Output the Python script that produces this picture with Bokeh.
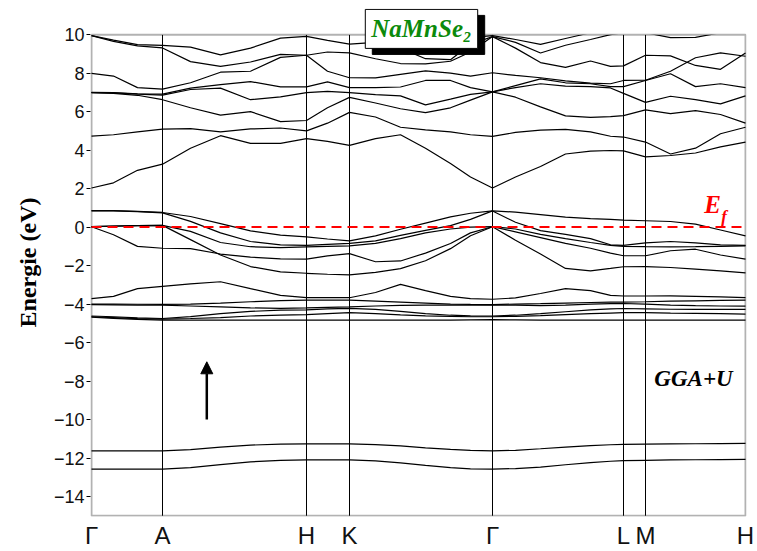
from bokeh.plotting import figure
from bokeh.models import Range1d, FixedTicker, Span, Label, Arrow, NormalHead, BoxAnnotation
from bokeh.embed import file_html
from bokeh.resources import INLINE

# k-path distance (arbitrary units) of sampled points
kpath = [0, 22, 46, 71, 99, 129, 159, 189, 215, 236, 258, 284, 309, 334, 359, 379,
         401, 424, 449, 474, 499, 519, 532, 554, 579, 604, 629, 654]
sym_k = [0, 71, 215, 258, 401, 532, 554, 654]
sym_lbl = ["Γ", "A", "H", "K", "Γ", "L", "M", "H"]
yticks = list(range(-14, 11, 2))
e_min, e_max = -15, 10

# conduction bands (eV)
cb1 = [2.03, 2.3, 2.95, 3.27, 4.1, 4.75, 4.35, 4.35, 4.6, 4.45, 4.25, 4.6, 4.8, 4.1, 3.3, 2.6, 2.03, 2.6, 3.15, 3.8, 3.95, 3.98, 3.96, 3.65, 3.72, 3.85, 4.17, 4.42]
cb2 = [4.73, 4.8, 4.95, 5.09, 5.12, 4.95, 5.1, 5.15, 5.0, 5.4, 5.96, 5.72, 5.19, 5.05, 4.95, 4.8, 4.71, 4.92, 5.04, 5.08, 4.95, 4.72, 4.68, 4.42, 3.8, 4.1, 4.85, 5.19]
cb3 = [6.99, 6.95, 6.85, 6.62, 6.2, 5.82, 6.0, 5.48, 5.54, 6.2, 6.74, 6.45, 6.15, 5.95, 6.2, 6.6, 7.03, 6.75, 6.25, 5.78, 5.7, 5.74, 5.79, 6.09, 5.9, 6.05, 5.85, 5.4]
cb4 = [6.99, 6.97, 6.91, 6.86, 7.15, 7.22, 6.62, 6.77, 6.99, 7.05, 6.99, 6.88, 6.82, 6.35, 6.65, 6.9, 7.03, 7.25, 7.45, 7.33, 7.3, 7.23, 6.95, 6.48, 6.8, 6.62, 6.4, 6.82]
cb5 = [7.0, 6.99, 6.93, 6.91, 7.22, 7.4, 7.56, 7.29, 7.29, 7.55, 7.25, 7.25, 7.28, 7.62, 7.62, 7.25, 7.03, 7.35, 7.7, 7.5, 7.45, 7.3, 7.3, 7.62, 7.97, 7.3, 7.45, 7.25]
cb6 = [7.99, 7.85, 7.25, 7.17, 7.5, 8.05, 8.1, 8.82, 8.93, 8.1, 7.76, 7.75, 7.94, 8.12, 8.0, 7.85, 8.02, 7.88, 7.76, 7.6, 7.48, 7.45, 7.62, 7.63, 8.1, 8.8, 9.05, 8.88]
cb7 = [9.95, 9.65, 9.42, 9.31, 8.6, 8.35, 8.58, 8.98, 8.93, 9.1, 9.05, 8.75, 8.5, 8.48, 8.62, 9.1, 9.9, 9.3, 8.55, 8.3, 8.63, 8.35, 8.38, 8.93, 8.9, 8.4, 8.2, 9.05]
cb8 = [9.95, 9.72, 9.48, 9.44, 9.35, 8.95, 9.3, 9.82, 9.91, 9.7, 9.51, 9.6, 9.3, 8.75, 8.7, 9.5, 9.9, 9.6, 9.05, 9.45, 9.75, 10.0, 10.1, 10.1, 9.85, 9.86, 10.1, 10.2]
cb9 = [10.4, 10.4, 10.4, 10.4, 10.4, 10.4, 10.4, 10.4, 10.3, 10.3, 10.2, 10.2, 10.1, 9.8, 9.8, 9.85, 9.95, 9.75, 9.5, 9.8, 10.1, 10.2, 10.3, 10.3, 10.3, 10.3, 10.3, 10.4]

# valence bands near Ef (eV)
vb1 = [0.86, 0.86, 0.82, 0.76, 0.55, 0.18, -0.2, -0.42, -0.51, -0.62, -0.72, -0.46, -0.11, 0.21, 0.53, 0.72, 0.84, 0.78, 0.65, 0.52, 0.44, 0.4, 0.36, 0.33, 0.29, 0.15, -0.15, -0.46]
vb2 = [0.84, 0.84, 0.8, 0.74, 0.3, -0.3, -0.75, -0.92, -0.95, -0.9, -0.85, -0.72, -0.43, -0.17, 0.08, 0.4, 0.84, 0.25, -0.18, -0.38, -0.6, -0.92, -0.95, -0.82, -0.75, -0.82, -0.92, -0.95]
vb3 = [0.02, 0.05, 0.08, 0.09, -0.22, -0.8, -1.02, -1.07, -1.03, -1.0, -0.98, -0.85, -0.6, -0.3, -0.1, 0.0, 0.02, -0.1, -0.38, -0.6, -0.8, -0.95, -1.0, -1.02, -1.03, -1.02, -1.0, -0.98]
vb4 = [0.02, 0.05, 0.08, 0.09, -0.65, -1.45, -2.05, -2.33, -2.4, -2.45, -2.48, -2.35, -2.16, -1.75, -1.12, -0.45, 0.02, -0.68, -1.4, -2.15, -2.28, -2.15, -2.06, -2.05, -2.1, -2.18, -2.28, -2.38]
vb5 = [0.02, -0.4, -1.0, -1.1, -1.12, -1.4, -1.56, -1.65, -1.66, -1.5, -1.38, -1.8, -1.76, -1.35, -0.85, -0.3, 0.02, -0.25, -0.55, -0.85, -1.1, -1.35, -1.49, -1.49, -1.23, -1.15, -1.45, -1.66]

# deeper valence bands (eV)
sc1 = [-3.72, -3.6, -3.2, -3.08, -2.95, -2.84, -3.2, -3.55, -3.67, -3.67, -3.67, -3.4, -2.98, -3.3, -3.6, -3.72, -3.75, -3.68, -3.45, -3.2, -3.3, -3.55, -3.58, -3.58, -3.57, -3.6, -3.63, -3.67]
sc2 = [-4.0, -4.0, -4.01, -4.02, -4.0, -3.95, -3.88, -3.82, -3.8, -3.8, -3.8, -3.85, -3.9, -3.95, -4.0, -4.02, -4.03, -4.0, -3.98, -3.95, -3.92, -3.9, -3.9, -3.88, -3.85, -3.83, -3.81, -3.8]
sc3 = [-4.03, -4.04, -4.05, -4.06, -4.1, -4.15, -4.2, -4.22, -4.2, -4.17, -4.15, -4.1, -4.07, -4.05, -4.05, -4.05, -4.05, -4.06, -4.08, -4.05, -4.0, -3.98, -3.97, -4.0, -4.05, -4.08, -4.1, -4.11]
sc4 = [-4.62, -4.66, -4.72, -4.75, -4.65, -4.5, -4.38, -4.32, -4.3, -4.25, -4.22, -4.28, -4.38, -4.5, -4.58, -4.61, -4.62, -4.58, -4.5, -4.4, -4.3, -4.25, -4.23, -4.25, -4.27, -4.28, -4.28, -4.28]
sc5 = [-4.66, -4.7, -4.76, -4.78, -4.75, -4.7, -4.62, -4.57, -4.55, -4.5, -4.45, -4.5, -4.56, -4.61, -4.64, -4.66, -4.66, -4.64, -4.6, -4.55, -4.5, -4.47, -4.45, -4.45, -4.47, -4.48, -4.5, -4.52]
sc6 = [-4.68, -4.74, -4.8, -4.83, -4.83, -4.83, -4.83, -4.83, -4.83, -4.83, -4.83, -4.83, -4.83, -4.83, -4.83, -4.82, -4.81, -4.82, -4.83, -4.83, -4.83, -4.83, -4.83, -4.83, -4.83, -4.83, -4.83, -4.83]

# Se-s like bands (eV)
lb1 = [-11.63, -11.63, -11.63, -11.63, -11.56, -11.43, -11.33, -11.28, -11.27, -11.27, -11.27, -11.3, -11.37, -11.47, -11.55, -11.6, -11.63, -11.6, -11.52, -11.43, -11.36, -11.31, -11.29, -11.28, -11.27, -11.26, -11.25, -11.24]
lb2 = [-12.58, -12.58, -12.58, -12.58, -12.5, -12.34, -12.2, -12.12, -12.1, -12.1, -12.1, -12.15, -12.25, -12.38, -12.5, -12.56, -12.58, -12.55, -12.47, -12.35, -12.24, -12.17, -12.14, -12.12, -12.1, -12.09, -12.08, -12.07]

all_bands = [cb1, cb2, cb3, cb4, cb5, cb6, cb7, cb8, cb9,
             vb1, vb2, vb3, vb4, vb5,
             sc1, sc2, sc3, sc4, sc5, sc6, lb1, lb2]

SANS = "Liberation Sans"
SERIF = "Liberation Serif"

# frame reaches above the band window so the title box can overlap the top border
p = figure(width=757, height=551, x_range=Range1d(-1, 655), y_range=Range1d(-15.04, 11.36),
           output_backend="svg", toolbar_location=None,
           min_border_left=90, min_border_right=11, min_border_top=8, min_border_bottom=32)
p.grid.visible = False
p.outline_line_color = None
p.background_fill_color = "white"
p.border_fill_color = "white"

for b in all_bands:
    p.line(kpath, b, line_color="black", line_width=1.2)

# high-symmetry verticals
p.segment(x0=sym_k[1:-1], y0=[e_min] * (len(sym_k) - 2), x1=sym_k[1:-1], y1=[e_max] * (len(sym_k) - 2),
          line_color="black", line_width=1)

# hide anything above the energy window, then draw the frame
p.add_layout(BoxAnnotation(bottom=e_max, fill_color="white", fill_alpha=1, line_color=None))
p.add_layout(BoxAnnotation(left=sym_k[0], right=sym_k[-1], bottom=e_min, top=e_max,
                           fill_alpha=0, line_color="black", line_width=2))

# Fermi level
p.segment(x0=[sym_k[0]], y0=[0], x1=[sym_k[-1]], y1=[0], line_color="#ff0000", line_dash="10 6", line_width=2)

# axes
p.xaxis.ticker = FixedTicker(ticks=sym_k)
p.xaxis.major_label_overrides = {kk: l for kk, l in zip(sym_k, sym_lbl)}
p.xaxis.major_tick_out = 0
p.xaxis.major_tick_in = 0
p.xaxis.minor_tick_out = 0
p.xaxis.minor_tick_in = 0
p.xaxis.axis_line_color = None
p.xaxis.major_label_standoff = 5
p.xaxis.major_label_text_font = SANS
p.xaxis.major_label_text_font_size = "24px"
p.xaxis.major_label_text_color = "#111111"

p.yaxis.ticker = FixedTicker(ticks=yticks)
p.yaxis.major_tick_out = 4
p.yaxis.major_tick_in = 0
p.yaxis.minor_tick_out = 0
p.yaxis.minor_tick_in = 0
p.yaxis.major_tick_line_color = "black"
p.yaxis.axis_line_color = None
p.yaxis.major_label_standoff = 2
p.yaxis.major_label_text_font = SANS
p.yaxis.major_label_text_font_size = "18px"
p.yaxis.major_label_text_color = "#111111"
p.yaxis.axis_label = "Energie (eV)"
p.yaxis.axis_label_text_font = SERIF
p.yaxis.axis_label_text_font_style = "bold"
p.yaxis.axis_label_text_font_size = "24px"
p.yaxis.axis_label_text_color = "black"
p.yaxis.axis_label_standoff = 10

# Fermi level label
p.add_layout(Label(x=621, y=1.18, text="E", text_font=SERIF, text_font_style="bold italic",
                   text_font_size="25px", text_color="#ff0000", text_align="center", text_baseline="middle"))
p.add_layout(Label(x=632.5, y=0.55, text="f", text_font=SERIF, text_font_style="bold italic",
                   text_font_size="17px", text_color="#ff0000", text_align="center", text_baseline="middle"))

# method label
p.add_layout(Label(x=602, y=-7.86, text="GGA+U", text_font=SERIF, text_font_style="bold italic",
                   text_font_size="23px", text_color="black", text_align="center", text_baseline="middle"))

# spin arrow
p.add_layout(Arrow(end=NormalHead(size=12, fill_color="black", line_color="black"),
                   x_start=115.3, y_start=-10.0, x_end=115.3, y_end=-7.0,
                   line_width=2.5, line_color="black"))

# compound title box with shadow
p.add_layout(Label(x=330, y=10.3, text="NaMnSe₂", text_font=SERIF, text_font_style="bold italic",
                   text_font_size="25px", text_color="black", text_align="center", text_baseline="middle",
                   background_fill_color="black", border_line_color="black", padding=6,
                   x_offset=7, y_offset=-6))
p.add_layout(Label(x=330, y=10.3, text="NaMnSe₂", text_font=SERIF, text_font_style="bold italic",
                   text_font_size="25px", text_color="#0b8a0b", text_align="center", text_baseline="middle",
                   background_fill_color="white", border_line_color="black", border_line_width=1, padding=6))

open("out.html", "w").write(file_html(p, INLINE))
